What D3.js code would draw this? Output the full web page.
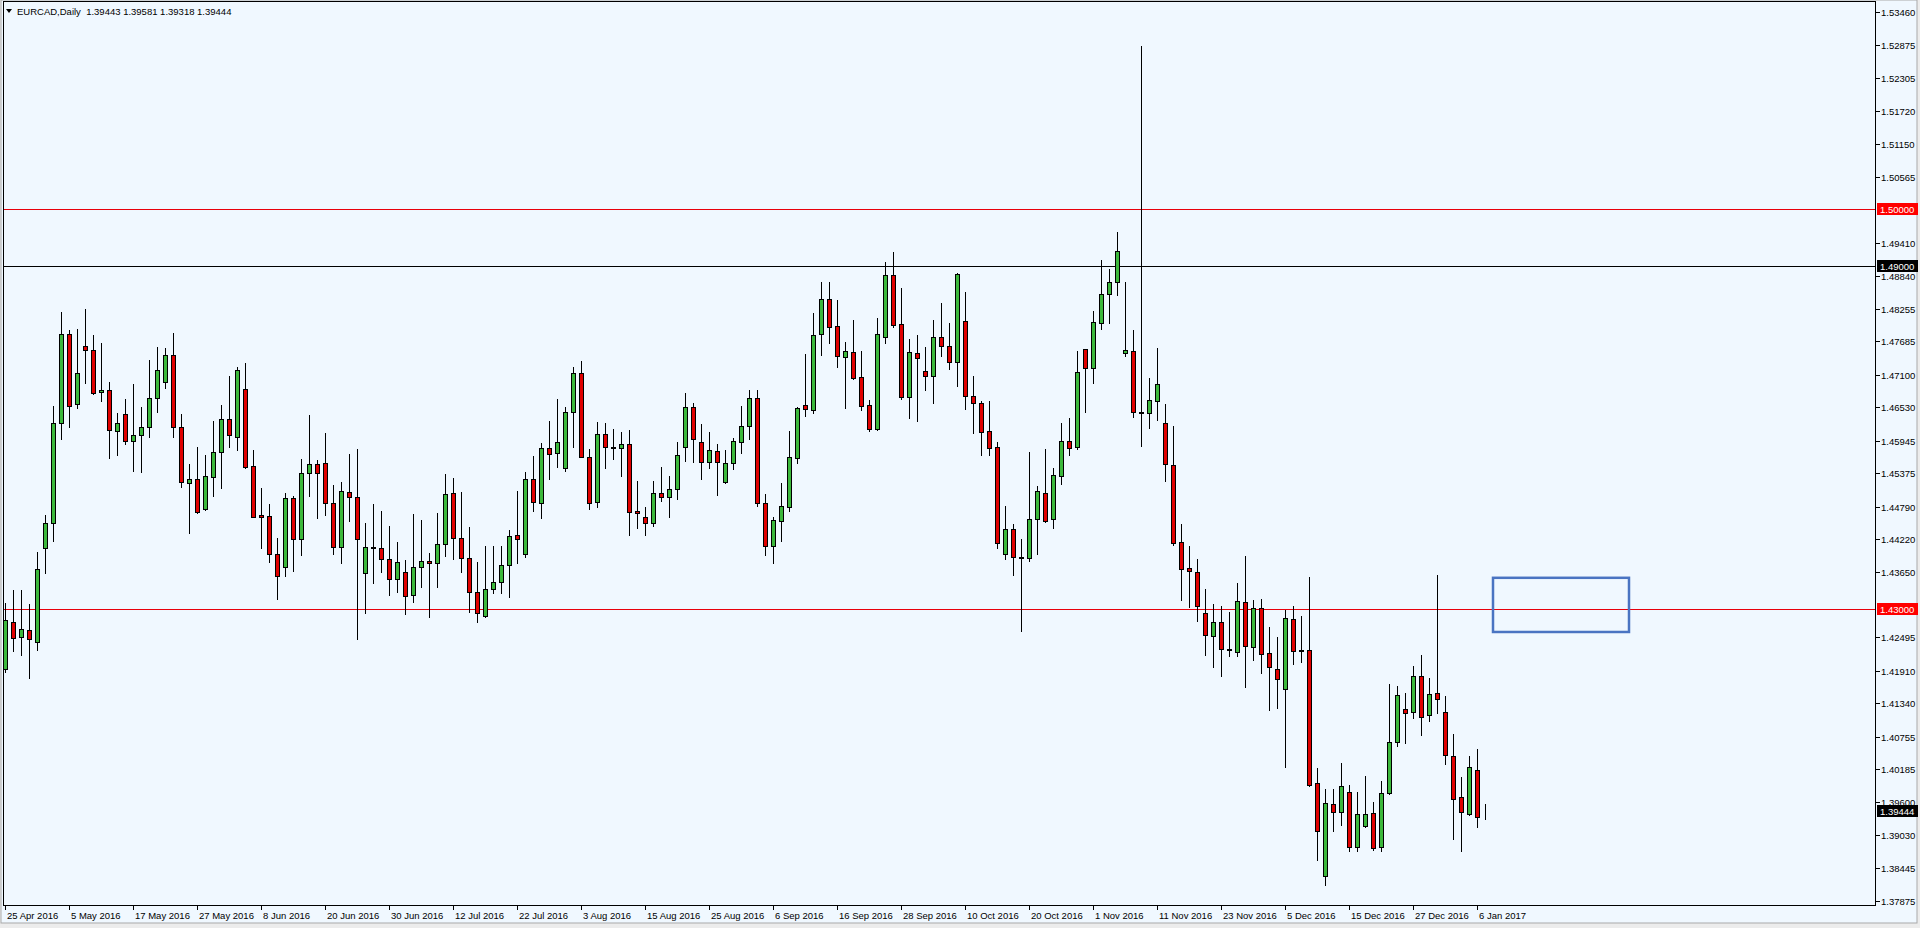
<!DOCTYPE html>
<html><head><meta charset="utf-8">
<script src="https://cdn.jsdelivr.net/npm/d3@7"></script>
<style>
html,body{margin:0;padding:0;background:#ececec;overflow:hidden;}
svg{display:block;}
text{font-family:"Liberation Sans",Arial,sans-serif;font-size:9.5px;fill:#000;white-space:pre;}
</style></head><body>
<svg id="c" width="1920" height="928"></svg>
<script>
const symbolTitle = "EURCAD,Daily";
const lastQuote = [1.39443, 1.39581, 1.39318, 1.39444];

const opens = [
1.4194,1.4276,1.4250,1.4262,1.4241,1.4406,1.4450,1.4625,1.4782,1.4659,
1.4760,1.4753,1.4680,1.4683,1.4611,1.4641,1.4594,1.4604,1.4618,1.4669,
1.4697,1.4745,1.4618,1.4520,1.4527,1.4475,1.4531,1.4575,1.4632,1.4601,
1.4685,1.4550,1.4464,1.4462,1.4396,1.4373,1.4494,1.4422,1.4538,1.4554,
1.4555,1.4485,1.4408,1.4504,1.4496,1.4362,1.4408,1.4406,1.4387,1.4352,
1.4364,1.4324,1.4373,1.4383,1.4380,1.4413,1.4503,1.4424,1.4389,1.4329,
1.4287,1.4334,1.4347,1.4376,1.4429,1.4396,1.4527,1.4485,1.4582,1.4573,
1.4547,1.4645,1.4713,1.4566,1.4487,1.4606,1.4583,1.4582,1.4589,1.4471,
1.4461,1.4450,1.4503,1.4496,1.4510,1.4583,1.4653,1.4592,1.4557,1.4576,
1.4522,1.4555,1.4592,1.4620,1.4669,1.4485,1.4410,1.4453,1.4478,1.4564,
1.4657,1.4648,1.4782,1.4843,1.4796,1.4741,1.4750,1.4706,1.4657,1.4615,
1.4776,1.4885,1.4799,1.4671,1.4748,1.4717,1.4708,1.4776,1.4760,1.4732,
1.4804,1.4673,1.4660,1.4611,1.4583,1.4396,1.4439,1.4390,1.4389,1.4457,
1.4503,1.4457,1.4533,1.4594,1.4583,1.4755,1.4722,1.4801,1.4852,1.4873,
1.4748,1.4752,1.4645,1.4643,1.4664,1.4625,1.4552,1.4417,1.4371,1.4364,
1.4292,1.4252,1.4276,1.4229,1.4224,1.4312,1.4232,1.4301,1.4222,1.4194,
1.4159,1.4282,1.4226,1.4227,1.3994,1.3831,1.3957,1.3943,1.3978,1.3882,
1.3919,1.3941,1.3882,1.3977,1.4066,1.4124,1.4119,1.4182,1.4113,1.4152,
1.4119,1.4041,1.3970,1.3940,1.4017,1.39443];

const highs = [
1.4310,1.4333,1.4333,1.4308,1.4399,1.4464,1.4655,1.4820,1.4789,1.4790,
1.4825,1.4780,1.4766,1.4697,1.4643,1.4667,1.4694,1.4653,1.4736,1.4759,
1.4757,1.4783,1.4641,1.4554,1.4583,1.4569,1.4629,1.4657,1.4708,1.4724,
1.4731,1.4578,1.4511,1.4483,1.4424,1.4503,1.4497,1.4562,1.4639,1.4561,
1.4608,1.4517,1.4522,1.4571,1.4580,1.4450,1.4483,1.4471,1.4445,1.4417,
1.4385,1.4466,1.4455,1.4397,1.4468,1.4536,1.4529,1.4504,1.4443,1.4382,
1.4410,1.4410,1.4410,1.4438,1.4506,1.4539,1.4568,1.4590,1.4629,1.4668,
1.4654,1.4724,1.4734,1.4580,1.4627,1.4625,1.4615,1.4610,1.4613,1.4524,
1.4478,1.4524,1.4548,1.4533,1.4592,1.4678,1.4660,1.4624,1.4610,1.4589,
1.4578,1.4599,1.4655,1.4683,1.4683,1.4501,1.4461,1.4520,1.4611,1.4653,
1.4746,1.4818,1.4873,1.4873,1.4841,1.4767,1.4806,1.4752,1.4666,1.4810,
1.4908,1.4925,1.4862,1.4773,1.4780,1.4759,1.4806,1.4836,1.4801,1.4888,
1.4855,1.4708,1.4664,1.4664,1.4592,1.4480,1.4448,1.4422,1.4575,1.4515,
1.4580,1.4547,1.4625,1.4634,1.4752,1.4756,1.4822,1.4911,1.4895,1.4960,
1.4873,1.4789,1.5286,1.4704,1.4757,1.4659,1.4620,1.4448,1.4410,1.4387,
1.4334,1.4308,1.4304,1.4294,1.4345,1.4392,1.4315,1.4317,1.4268,1.4251,
1.4297,1.4304,1.4287,1.4355,1.4020,1.3984,1.3984,1.4029,1.3991,1.3978,
1.4006,1.3961,1.3998,1.4168,1.4164,1.4152,1.4199,1.4219,1.4178,1.4359,
1.4147,1.4080,1.4005,1.4041,1.4054,1.39581];

const lows = [
1.4189,1.4226,1.4219,1.4178,1.4227,1.4362,1.4418,1.4597,1.4618,1.4652,
1.4696,1.4677,1.4664,1.4564,1.4569,1.4589,1.4541,1.4539,1.4601,1.4645,
1.4687,1.4601,1.4513,1.4432,1.4468,1.4473,1.4497,1.4511,1.4583,1.4578,
1.4547,1.4460,1.4406,1.4382,1.4317,1.4357,1.4366,1.4394,1.4497,1.4459,
1.4464,1.4396,1.4380,1.4453,1.4247,1.4292,1.4345,1.4364,1.4324,1.4329,
1.4290,1.4312,1.4338,1.4285,1.4338,1.4392,1.4387,1.4364,1.4294,1.4276,
1.4285,1.4327,1.4327,1.4320,1.4380,1.4390,1.4471,1.4459,1.4527,1.4548,
1.4541,1.4583,1.4565,1.4475,1.4478,1.4547,1.4562,1.4533,1.4429,1.4441,
1.4429,1.4445,1.4489,1.4461,1.4492,1.4559,1.4557,1.4527,1.4547,1.4499,
1.4520,1.4545,1.4573,1.4597,1.4480,1.4394,1.4380,1.4418,1.4471,1.4555,
1.4638,1.4643,1.4745,1.4766,1.4724,1.4652,1.4703,1.4648,1.4611,1.4613,
1.4766,1.4794,1.4667,1.4634,1.4629,1.4683,1.4660,1.4743,1.4720,1.4690,
1.4650,1.4608,1.4569,1.4569,1.4406,1.4387,1.4359,1.4261,1.4384,1.4396,
1.4452,1.4441,1.4518,1.4569,1.4580,1.4645,1.4696,1.4790,1.4801,1.4850,
1.4743,1.4636,1.4585,1.4617,1.4631,1.4524,1.4411,1.4315,1.4303,1.4278,
1.4219,1.4197,1.4182,1.4217,1.4217,1.4162,1.4210,1.4187,1.4122,1.4126,
1.4022,1.4203,1.4206,1.3989,1.3859,1.3815,1.3910,1.3920,1.3875,1.3875,
1.3917,1.3877,1.3875,1.3975,1.4059,1.4064,1.4108,1.4078,1.4103,1.4117,
1.4027,1.3896,1.3875,1.3938,1.3917,1.39318];

const closes = [
1.4280,1.4248,1.4264,1.4247,1.4369,1.4450,1.4625,1.4782,1.4655,1.4713,
1.4753,1.4678,1.4683,1.4613,1.4625,1.4594,1.4604,1.4618,1.4669,1.4718,
1.4745,1.4618,1.4522,1.4527,1.4469,1.4533,1.4575,1.4632,1.4604,1.4718,
1.4548,1.4461,1.4461,1.4396,1.4357,1.4494,1.4422,1.4538,1.4554,1.4538,
1.4485,1.4408,1.4506,1.4496,1.4422,1.4408,1.4406,1.4387,1.4352,1.4382,
1.4322,1.4373,1.4383,1.4380,1.4413,1.4501,1.4424,1.4389,1.4329,1.4292,
1.4334,1.4347,1.4376,1.4427,1.4422,1.4527,1.4487,1.4582,1.4571,1.4592,
1.4645,1.4713,1.4566,1.4485,1.4606,1.4583,1.4582,1.4589,1.4469,1.4467,
1.4450,1.4503,1.4496,1.4510,1.4569,1.4653,1.4597,1.4557,1.4578,1.4557,
1.4555,1.4594,1.4620,1.4669,1.4485,1.4410,1.4455,1.4480,1.4566,1.4652,
1.4650,1.4780,1.4843,1.4794,1.4743,1.4752,1.4704,1.4655,1.4615,1.4782,
1.4885,1.4797,1.4671,1.4750,1.4739,1.4708,1.4776,1.4760,1.4732,1.4887,
1.4673,1.4660,1.4610,1.4582,1.4415,1.4439,1.4390,1.4389,1.4457,1.4506,
1.4453,1.4534,1.4594,1.4582,1.4715,1.4722,1.4803,1.4852,1.4873,1.4927,
1.4753,1.4645,1.4643,1.4666,1.4694,1.4554,1.4415,1.4369,1.4366,1.4304,
1.4254,1.4276,1.4229,1.4227,1.4313,1.4234,1.4301,1.4220,1.4197,1.4176,
1.4283,1.4226,1.4227,1.3991,1.3910,1.3959,1.3943,1.3989,1.3882,1.3940,
1.3940,1.3880,1.3977,1.4066,1.4148,1.4117,1.4182,1.4110,1.4150,1.4141,
1.4043,1.3966,1.3943,1.4022,1.3934,1.39444];

const dateLabels = ["25 Apr 2016","5 May 2016","17 May 2016","27 May 2016","8 Jun 2016","20 Jun 2016",
"30 Jun 2016","12 Jul 2016","22 Jul 2016","3 Aug 2016","15 Aug 2016","25 Aug 2016","6 Sep 2016",
"16 Sep 2016","28 Sep 2016","10 Oct 2016","20 Oct 2016","1 Nov 2016","11 Nov 2016","23 Nov 2016",
"5 Dec 2016","15 Dec 2016","27 Dec 2016","6 Jan 2017"];
const dateLabelBars = [0,8,16,24,32,40,48,56,64,72,80,88,96,104,112,120,128,136,144,152,160,168,176,184];

const priceTicks = [1.53460,1.52875,1.52305,1.51720,1.51150,1.50565,1.49410,1.48840,1.48255,1.47685,
1.47100,1.46530,1.45945,1.45375,1.44790,1.44220,1.43650,1.42495,1.41910,1.41340,1.40755,1.40185,
1.39600,1.39030,1.38445,1.37875];

const redLevels = [1.50000, 1.43000];
const blackLevels = [1.49000];
const zoneBars = [186, 203];
const zonePrices = [1.4354, 1.4259];

// ---------- drawing ----------
const svg = d3.select("#c");
const W = 1920, H = 928;
const plotL = 3, plotT = 1, plotR = 1875, plotB = 905;
const bg = "#f0f8ff";

const x = d3.scaleLinear().domain([0, 185]).range([5, 1485]);
const y = d3.scaleLinear().domain([1.43, 1.50]).range([608.6, 209.4]);
const Y = p => Math.round(y(p));

svg.append("rect").attr("x",1).attr("y",0).attr("width",1916).attr("height",923)
  .attr("fill",bg).attr("stroke","#a9a9a9").attr("stroke-width",1);

svg.append("defs").append("clipPath").attr("id","plotclip").append("rect")
  .attr("x",plotL+1).attr("y",plotT+1).attr("width",plotR-plotL-1).attr("height",plotB-plotT-1);

const g = svg.append("g").attr("clip-path","url(#plotclip)").attr("shape-rendering","crispEdges");

// horizontal levels
g.selectAll("line.red").data(redLevels).join("line")
  .attr("x1",plotL).attr("x2",plotR).attr("y1",d=>Y(d)+0.5).attr("y2",d=>Y(d)+0.5)
  .attr("stroke","#e8000b").attr("stroke-width",1);
g.selectAll("line.blk").data(blackLevels).join("line")
  .attr("x1",plotL).attr("x2",plotR).attr("y1",d=>Y(d)+0.5).attr("y2",d=>Y(d)+0.5)
  .attr("stroke","#000").attr("stroke-width",1);

const bars = d3.range(opens.length).map(i => ({i, o:opens[i], h:highs[i], l:lows[i], c:closes[i]}));

// wicks
g.selectAll("line.wick").data(bars).join("line")
  .attr("x1",d=>Math.round(x(d.i))+0.5).attr("x2",d=>Math.round(x(d.i))+0.5)
  .attr("y1",d=>Y(d.h)).attr("y2",d=>Y(d.l)+1)
  .attr("stroke","#000").attr("stroke-width",1);

// bodies
g.selectAll("rect.body").data(bars).join("rect")
  .attr("x",d=>Math.round(x(d.i))-1.5)
  .attr("width",4)
  .attr("y",d=>Y(Math.max(d.o,d.c))+0.5)
  .attr("height",d=>Math.max(0, Y(Math.min(d.o,d.c)) - Y(Math.max(d.o,d.c))))
  .attr("fill",d=>d.c>d.o ? "#3cb83c" : (d.c<d.o ? "#e00000" : "#000"))
  .attr("stroke","#000").attr("stroke-width",1);

// last bar rendered as cross (tiny body)
// zone rectangle
svg.append("rect")
  .attr("x",x(zoneBars[0])).attr("y",y(zonePrices[0]))
  .attr("width",x(zoneBars[1])-x(zoneBars[0])).attr("height",y(zonePrices[1])-y(zonePrices[0]))
  .attr("fill","none").attr("stroke","#4a74c2").attr("stroke-width",2.5);

// frame
const fr = svg.append("g").attr("shape-rendering","crispEdges");
fr.append("line").attr("x1",plotL+0.5).attr("x2",plotL+0.5).attr("y1",plotT).attr("y2",plotB+1).attr("stroke","#000");
fr.append("line").attr("x1",plotR+0.5).attr("x2",plotR+0.5).attr("y1",plotT).attr("y2",plotB+1).attr("stroke","#000");
fr.append("line").attr("x1",plotL).attr("x2",plotR+1).attr("y1",plotB+0.5).attr("y2",plotB+0.5).attr("stroke","#000");
fr.append("line").attr("x1",plotL).attr("x2",plotR+1).attr("y1",plotT+0.5).attr("y2",plotT+0.5).attr("stroke","#000");

// price axis ticks and labels
const pa = svg.append("g");
pa.selectAll("line").data(priceTicks).join("line")
  .attr("shape-rendering","crispEdges")
  .attr("x1",plotR+1).attr("x2",plotR+5).attr("y1",d=>Y(d)+0.5).attr("y2",d=>Y(d)+0.5).attr("stroke","#000");
pa.selectAll("text").data(priceTicks).join("text")
  .attr("x",plotR+6).attr("y",d=>Y(d)+3.5).text(d=>d.toFixed(5));

// level markers on axis
const markers = redLevels.map(p=>({p, fill:"#ff0000"}))
  .concat(blackLevels.map(p=>({p, fill:"#000"})))
  .concat([{p:lastQuote[3], fill:"#000"}]);
const mk = svg.append("g").selectAll("g").data(markers).join("g");
mk.append("rect").attr("x",plotR+2).attr("y",d=>Y(d.p)-6).attr("width",41).attr("height",12)
  .attr("fill",d=>d.fill).attr("shape-rendering","crispEdges");
mk.append("text").attr("x",plotR+5).attr("y",d=>Y(d.p)+3.5).style("fill","#fff")
  .text(d=>d.p.toFixed(5));

// time axis
const ta = svg.append("g");
ta.selectAll("line").data(dateLabelBars).join("line").attr("shape-rendering","crispEdges")
  .attr("x1",d=>Math.round(x(d))+0.5).attr("x2",d=>Math.round(x(d))+0.5)
  .attr("y1",plotB+1).attr("y2",plotB+5).attr("stroke","#000");
ta.selectAll("text").data(dateLabelBars).join("text")
  .attr("x",d=>Math.round(x(d))+2).attr("y",plotB+14).text((d,k)=>dateLabels[k]);

// title
svg.append("path").attr("d","M6,9 L12,9 L9,13 Z").attr("fill","#000");
svg.append("text").attr("x",17).attr("y",15)
  .text(symbolTitle + "  " + lastQuote.map(v=>v.toFixed(5)).join(" "));
</script>
</body></html>
